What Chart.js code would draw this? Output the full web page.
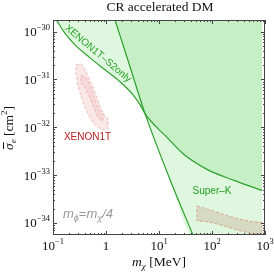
<!DOCTYPE html>
<html>
<head>
<meta charset="utf-8">
<script src="https://cdn.jsdelivr.net/npm/chart.js@4"></script>
<style>
  html, body { margin: 0; padding: 0; background: #fff; }
  #wrap { width: 274px; height: 273px; }
</style>
</head>
<body>
<div id="wrap"><canvas id="chart" width="274" height="273"></canvas></div>
<script>
// axis range
const xMin = 0.1, xMax = 1000;
const yMin = 5.6e-35, yMax = 1.75e-30;

// tick labels
const xTickValues = [0.1, 1, 10, 100, 1000];
const xTickBase = ["10", "1", "10", "10", "10"];
const xTickSup = ["\u22121", "", "1", "2", "3"];
const yTickValues = [1e-30, 1e-31, 1e-32, 1e-33, 1e-34];
const yTickBase = ["10", "10", "10", "10", "10"];
const yTickSup = ["\u221230", "\u221231", "\u221232", "\u221233", "\u221234"];

// XENON1T-S2only bound (excluded above)
const s2Mass  = [0.115, 0.161, 0.26, 0.499, 0.957, 1.84, 3.1, 4.38, 5.45, 8.4, 13, 29.7, 80.5, 260, 880];
const s2Sigma = [1.8e-30, 9.86e-31, 5.28e-31, 2.83e-31, 1.59e-31, 8.95e-32, 5.04e-32, 2.97e-32, 1.93e-32, 1.08e-32, 6.76e-33, 2.69e-33, 1.32e-33, 7.76e-34, 4.79e-34];

// Super-K bound (excluded to the right)
const skMass  = [1.48, 2.84, 5.45, 16.1, 48];
const skSigma = [1.75e-30, 1.84e-31, 1.93e-32, 8.13e-34, 4.37e-35];

// XENON1T preferred region (outer and inner contour)
const xeMass  = [0.272, 0.323, 0.521, 1.09, 1.09, 0.957, 0.296, 0.272, 0.272];
const xeSigma = [2.02e-31, 2.12e-31, 8.53e-32, 1.58e-32, 9.3e-33, 8.9e-33, 7.4e-32, 1.26e-31, 2.02e-31];
const xeCoreMass  = [0.337, 0.402, 0.877, 0.877, 0.771, 0.337, 0.337];
const xeCoreSigma = [1.19e-31, 1.14e-31, 1.93e-32, 1.38e-32, 1.45e-32, 8.1e-32, 1.19e-31];

// heavy mass band
const bandMass  = [52, 880, 880, 52, 52];
const bandSigma = [2.24e-34, 1.035e-34, 5.82e-35, 1.1e-34, 2.24e-34];

const pts = (xs, ys) => xs.map((x, i) => ({ x: x, y: ys[i] }));

const green = "#2ca02c";
const greenFill = "rgba(110,215,110,0.22)";

const frame = {
  id: "frame",
  afterDatasetsDraw(chart) {
    const { ctx, chartArea: a, scales: { x, y } } = chart;
    ctx.save();
    ctx.strokeStyle = "#444";
    ctx.lineWidth = 1;
    ctx.strokeRect(a.left + 0.5, a.top + 0.5, a.right - a.left - 1, a.bottom - a.top - 1);

    ctx.beginPath();
    // x ticks, bottom and top
    for (let d = 0.1; d < 1001; d *= 10) {
      for (let k = 1; k <= 9; k++) {
        const v = d * k;
        if (v > xMax * 1.001) break;
        const px = Math.round(x.getPixelForValue(v)) + 0.5;
        const len = k === 1 ? 4 : 2;
        ctx.moveTo(px, a.bottom); ctx.lineTo(px, a.bottom - len);
        ctx.moveTo(px, a.top); ctx.lineTo(px, a.top + len);
      }
    }
    // y ticks, left and right
    for (let e = -35; e <= -30; e++) {
      for (let k = 1; k <= 9; k++) {
        const v = k * Math.pow(10, e);
        if (v < yMin || v > yMax) continue;
        const py = Math.round(y.getPixelForValue(v)) + 0.5;
        const len = k === 1 ? 4 : 2;
        ctx.moveTo(a.left, py); ctx.lineTo(a.left + len, py);
        ctx.moveTo(a.right, py); ctx.lineTo(a.right - len, py);
      }
    }
    ctx.stroke();

    ctx.fillStyle = "#111";
    const serif = "'Liberation Serif', 'DejaVu Serif', serif";
    xTickValues.forEach((v, i) => {
      drawRuns(ctx, [
        { t: xTickBase[i], font: "13px " + serif, dy: 0 },
        { t: xTickSup[i], font: "8.5px " + serif, dy: -6 }
      ], x.getPixelForValue(v), a.bottom + 15, "center");
    });
    yTickValues.forEach((v, i) => {
      drawRuns(ctx, [
        { t: yTickBase[i], font: "13px " + serif, dy: 0 },
        { t: yTickSup[i], font: "8.5px " + serif, dy: -6 }
      ], a.left - 3, y.getPixelForValue(v) + 4.5, "right");
    });

    // title
    ctx.fillStyle = "#111";
    ctx.font = "13.5px " + serif;
    ctx.textAlign = "center";
    ctx.textBaseline = "alphabetic";
    ctx.fillText("CR accelerated DM", 160, 11);

    // x axis title
    drawRuns(ctx, [
      { t: "m", font: "italic 13.5px " + serif, dy: 0 },
      { t: "\u03c7", font: "italic 9px " + serif, dy: 3 },
      { t: " [MeV]", font: "13.5px " + serif, dy: 0 }
    ], 159, 266, "center");

    // y axis title
    ctx.save();
    ctx.translate(13, 128);
    ctx.rotate(-Math.PI / 2);
    const w = drawRuns(ctx, [
      { t: "\u03c3", font: "italic 13.5px " + serif, dy: 0 },
      { t: "e", font: "italic 9px " + serif, dy: 3 },
      { t: " [cm", font: "13.5px " + serif, dy: 0 },
      { t: "2", font: "9px " + serif, dy: -6 },
      { t: "]", font: "13.5px " + serif, dy: 0 }
    ], 0, 0, "center");
    ctx.font = "italic 13.5px " + serif;
    const sw = ctx.measureText("\u03c3").width;
    ctx.fillRect(-w / 2 + 1, -10, sw, 1);
    ctx.restore();

    // region labels
    const sans = "'Liberation Sans', Arial, sans-serif";
    ctx.font = "10px " + sans;
    ctx.textAlign = "center";
    ctx.textBaseline = "middle";

    ctx.fillStyle = "#22a022";
    ctx.save();
    ctx.translate(x.getPixelForValue(0.706), y.getPixelForValue(3.47e-31));
    ctx.rotate(40 * Math.PI / 180);
    ctx.fillText("XENON1T\u2013S2only", 0, 0);
    ctx.restore();
    ctx.fillText("Super\u2013K", x.getPixelForValue(100), y.getPixelForValue(4.68e-34));

    ctx.fillStyle = "#c02020";
    ctx.fillText("XENON1T", x.getPixelForValue(0.448), y.getPixelForValue(6.1e-33));

    ctx.fillStyle = "#999";
    drawRuns(ctx, [
      { t: "m", font: "italic 13px " + sans, dy: 0 },
      { t: "\u03d5", font: "italic 9px " + sans, dy: 3 },
      { t: "=", font: "13px " + sans, dy: 0 },
      { t: "m", font: "italic 13px " + sans, dy: 0 },
      { t: "\u03c7", font: "italic 9px " + sans, dy: 3 },
      { t: "/4", font: "italic 13px " + sans, dy: 0 }
    ], x.getPixelForValue(0.457), y.getPixelForValue(1.51e-34) + 4, "center");

    ctx.restore();
  }
};

function drawRuns(ctx, runs, x, y, align) {
  ctx.textAlign = "left";
  ctx.textBaseline = "alphabetic";
  let total = 0;
  runs.forEach(r => { ctx.font = r.font; r.w = ctx.measureText(r.t).width; total += r.w; });
  let cx = align === "center" ? x - total / 2 : align === "right" ? x - total : x;
  runs.forEach(r => {
    ctx.font = r.font;
    ctx.fillText(r.t, cx, y + r.dy);
    cx += r.w;
  });
  return total;
}

new Chart(document.getElementById("chart"), {
  type: "line",
  data: {
    datasets: [
      { data: pts(s2Mass, s2Sigma), borderColor: green, borderWidth: 1.2, fill: false, order: 1 },
      { data: pts(skMass, skSigma), borderColor: green, borderWidth: 1.2, fill: false, order: 1 },
      { data: pts(bandMass, bandSigma), borderColor: "rgba(220,120,100,0.8)", borderDash: [3, 2],
        borderWidth: 0.8, backgroundColor: "rgba(200,170,150,0.38)", fill: "shape", tension: 0, order: 2 },
      { data: pts(xeMass, xeSigma), borderColor: "rgba(220,110,110,0.55)", borderDash: [3, 2],
        borderWidth: 0.8, backgroundColor: "rgba(225,130,130,0.18)", fill: "shape", tension: 0, order: 2 },
      { data: pts(xeCoreMass, xeCoreSigma), borderColor: "rgba(220,110,110,0.55)", borderDash: [3, 2],
        borderWidth: 0.8, backgroundColor: "rgba(225,130,130,0.15)", fill: "shape", tension: 0, order: 2 },
      { data: pts(s2Mass, s2Sigma), borderWidth: 0, backgroundColor: greenFill, fill: "end", order: 3 },
      { data: pts(skMass.concat([880]), skSigma.concat([4.37e-35])), borderWidth: 0,
        backgroundColor: greenFill, fill: "end", order: 3 }
    ]
  },
  options: {
    responsive: false,
    animation: false,
    devicePixelRatio: 1,
    layout: { padding: { left: 53, top: 20, right: 9, bottom: 38 } },
    elements: { point: { radius: 0 }, line: { cubicInterpolationMode: "monotone" } },
    plugins: { legend: { display: false }, tooltip: { enabled: false }, title: { display: false } },
    scales: {
      x: { type: "logarithmic", min: xMin, max: xMax, display: false, bounds: "data" },
      y: { type: "logarithmic", min: yMin, max: yMax, display: false, bounds: "data" }
    }
  },
  plugins: [frame]
});
</script>
</body>
</html>
